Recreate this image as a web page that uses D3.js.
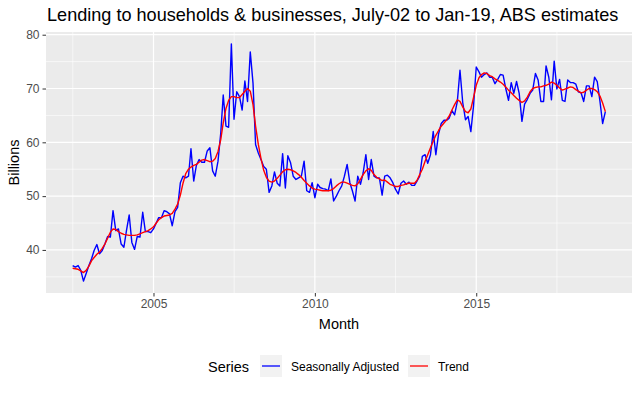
<!DOCTYPE html>
<html><head><meta charset="utf-8">
<script src="https://cdn.jsdelivr.net/npm/d3@7"></script>
<style>body{margin:0;background:#fff}svg{display:block}text{font-family:"Liberation Sans",Arial,sans-serif}</style>
</head><body><svg id="c" width="640" height="393"></svg>
<script>
const startYear = 2002, startMonth = 6; // July 2002, monthly
const seasonallyAdjusted = [
37.1,36.8,37.1,36.2,34.2,35.6,37.1,38.4,39.9,41.0,39.3,39.9,41.1,42.5,42.4,47.3,43.6,43.9,41.1,40.5,
43.6,46.5,41.4,40.1,42.5,42.4,47.0,43.4,43.4,43.2,43.9,45.0,46.0,46.0,47.3,47.1,46.7,44.5,47.1,47.9,
52.5,53.7,53.4,53.7,58.8,52.8,55.7,56.8,56.3,56.3,58.4,59.0,54.7,53.7,56.5,61.7,68.8,63.0,62.8,78.3,
64.3,69.4,68.5,66.0,71.4,67.6,76.8,71.0,59.6,58.0,56.8,55.5,55.0,50.7,51.9,54.5,52.4,51.9,57.9,51.5,
57.5,56.2,53.7,53.1,53.4,53.7,56.5,51.0,50.7,52.5,49.7,52.2,51.6,51.4,51.3,51.0,53.2,49.1,50.0,51.0,
51.9,53.7,55.9,52.5,51.0,49.1,53.7,52.2,54.3,57.7,53.1,56.8,53.7,53.4,53.4,50.2,53.7,53.9,53.4,52.5,
51.3,50.4,52.4,52.8,52.2,52.6,52.0,52.0,52.8,53.7,57.4,57.7,56.1,57.7,62.0,57.7,61.6,63.5,64.1,64.1,
64.5,65.9,65.1,67.6,73.4,67.4,64.2,64.8,62.0,66.7,74.0,73.1,72.1,72.6,72.9,72.1,72.1,70.9,71.7,72.6,
72.5,70.0,67.8,71.1,69.1,71.3,69.1,63.9,67.1,68.0,69.1,69.7,72.8,71.6,67.6,67.6,74.2,72.1,67.9,75.1,
69.9,71.7,67.8,67.6,71.6,71.1,71.1,70.8,69.4,69.2,67.6,70.5,70.5,68.5,72.1,71.3,67.6,63.5,65.7
];
const trend = [
36.6,36.5,36.4,36.1,35.8,36.2,37.0,38.0,38.6,39.2,39.6,40.3,41.1,42.2,43.3,43.9,43.8,43.4,43.1,42.9,
42.8,42.7,42.7,42.7,42.8,43.0,43.2,43.4,43.6,43.9,44.3,45.0,45.6,46.0,46.3,46.4,46.5,46.8,47.6,48.5,
50.2,52.4,54.2,55.0,55.4,55.7,55.9,56.3,56.7,56.8,56.6,56.4,56.5,57.0,58.3,60.5,63.6,66.3,67.8,68.5,
68.5,68.3,68.3,68.9,69.5,70.0,69.5,67.0,63.0,59.6,57.0,54.8,53.5,52.8,52.6,52.8,53.3,53.9,54.5,54.9,
55.0,54.9,54.7,54.4,54.0,53.5,52.9,52.4,51.9,51.5,51.3,51.2,51.1,51.0,51.0,51.0,51.1,51.4,51.9,52.3,
52.6,52.6,52.4,52.2,52.0,51.9,52.3,53.1,54.0,54.7,55.1,54.8,54.0,53.5,53.2,52.9,53.0,52.6,52.2,52.0,
51.8,51.8,52.0,52.1,52.3,52.4,52.4,52.4,52.9,54.0,55.0,56.5,57.7,59.0,60.2,61.3,62.2,63.0,63.6,64.2,
64.9,66.0,67.0,67.9,67.6,66.6,65.7,65.5,66.2,68.3,70.6,72.0,72.6,72.9,72.8,72.4,72.2,71.8,71.5,71.2,
70.8,70.3,69.7,69.2,68.7,68.2,67.8,67.4,67.7,68.4,69.4,70.0,70.2,70.3,70.3,70.5,70.6,70.8,71.2,71.0,
70.6,70.1,69.7,69.9,70.1,70.3,70.2,69.8,69.5,69.2,69.3,69.7,70.0,70.0,69.8,69.4,68.6,67.3,65.7
];
const xTickLabels = ["2005","2010","2015"];
const yTicks = [40,50,60,70,80];
const seriesNames = ["Seasonally Adjusted","Trend"];
const seriesColors = ["#0000ff","#ff0000"];
const titleText = "Lending to households & businesses, July-02 to Jan-19, ABS estimates";

const svg = d3.select("#c");
const W = 640, H = 393;
const m = {left:46, right:8, top:32, bottom:100};
const pw = W - m.left - m.right, ph = H - m.top - m.bottom;

const dates = seasonallyAdjusted.map((d,i)=>new Date(startYear, startMonth+i, 1));
const t0 = +dates[0], t1 = +dates[dates.length-1], span = t1 - t0;
const x = d3.scaleTime().domain([new Date(t0-0.05*span), new Date(t1+0.05*span)]).range([m.left, m.left+pw]);
const all = seasonallyAdjusted.concat(trend);
const ymin = d3.min(all), ymax = d3.max(all), yr = ymax - ymin;
const y = d3.scaleLinear().domain([ymin-0.05*yr, ymax+0.05*yr]).range([m.top+ph, m.top]);

// panel
svg.append("rect").attr("x",m.left).attr("y",m.top).attr("width",pw).attr("height",ph).attr("fill","#ebebeb");
const g = svg.append("g");
const xMajor = xTickLabels.map(s=>new Date(+s,0,1));
const xMinor = [];
const step = +xMajor[1]-+xMajor[0];
for (let k=-1;k<xMajor.length;k++){ const a=+xMajor[0]+k*step; xMinor.push(new Date(a+step/2)); }
const yMinor = yTicks.map(v=>v-5).concat([yTicks[yTicks.length-1]+5]).filter(v=>v>y.domain()[0]&&v<y.domain()[1]);
yMinor.forEach(v=>g.append("line").attr("x1",m.left).attr("x2",m.left+pw).attr("y1",y(v)).attr("y2",y(v)).attr("stroke","#fff").attr("stroke-width",0.6));
xMinor.filter(d=>d>x.domain()[0]&&d<x.domain()[1]).forEach(d=>g.append("line").attr("y1",m.top).attr("y2",m.top+ph).attr("x1",x(d)).attr("x2",x(d)).attr("stroke","#fff").attr("stroke-width",0.6));
yTicks.forEach(v=>g.append("line").attr("x1",m.left).attr("x2",m.left+pw).attr("y1",y(v)).attr("y2",y(v)).attr("stroke","#fff").attr("stroke-width",1.2));
xMajor.forEach(d=>g.append("line").attr("y1",m.top).attr("y2",m.top+ph).attr("x1",x(d)).attr("x2",x(d)).attr("stroke","#fff").attr("stroke-width",1.2));

// lines
const line = d3.line().x((d,i)=>x(dates[i])).y(d=>y(d));
[seasonallyAdjusted, trend].forEach((s,k)=>{
  svg.append("path").datum(s).attr("d",line).attr("fill","none").attr("stroke",seriesColors[k]).attr("stroke-width",1.4).attr("stroke-linejoin","round");
});

// axes
const xAxis = d3.axisBottom(x).tickValues(xMajor).tickFormat((d,i)=>xTickLabels[i]).tickSize(3.5).tickPadding(3);
const gx = svg.append("g").attr("transform",`translate(0,${m.top+ph})`).call(xAxis);
const yAxis = d3.axisLeft(y).tickValues(yTicks).tickSize(3.5).tickPadding(3);
const gy = svg.append("g").attr("transform",`translate(${m.left},0)`).call(yAxis);
[gx,gy].forEach(a=>{
  a.select(".domain").remove();
  a.selectAll(".tick line").attr("stroke","#333333").attr("stroke-width",1);
  a.selectAll(".tick text").attr("fill","#4d4d4d").style("font-size","12px").style("font-family","'Liberation Sans',Arial,sans-serif");
});

// titles
svg.append("text").attr("x",m.left+1).attr("y",20.5).attr("text-anchor","start").style("font-size","18.1px").attr("fill","#000").text(titleText);
svg.append("text").attr("x",m.left+pw/2).attr("y",329).attr("text-anchor","middle").style("font-size","14.5px").attr("fill","#000").text("Month");
svg.append("text").attr("transform",`translate(19,${m.top+ph/2}) rotate(-90)`).attr("text-anchor","middle").style("font-size","14.5px").attr("fill","#000").text("Billions");

// legend
const lg = svg.append("g");
lg.append("text").attr("x",208).attr("y",372).style("font-size","14.5px").attr("fill","#000").text("Series");
const keyX = [260, 408], labX = [291, 438];
seriesNames.forEach((n,k)=>{
  lg.append("rect").attr("x",keyX[k]).attr("y",355).attr("width",22).attr("height",22).attr("fill","#f2f2f2");
  lg.append("line").attr("x1",keyX[k]+2).attr("x2",keyX[k]+20).attr("y1",366).attr("y2",366).attr("stroke",seriesColors[k]).attr("stroke-width",1.3);
  lg.append("text").attr("x",labX[k]).attr("y",370.5).style("font-size","12px").attr("fill","#000").text(n);
});
</script></body></html>
